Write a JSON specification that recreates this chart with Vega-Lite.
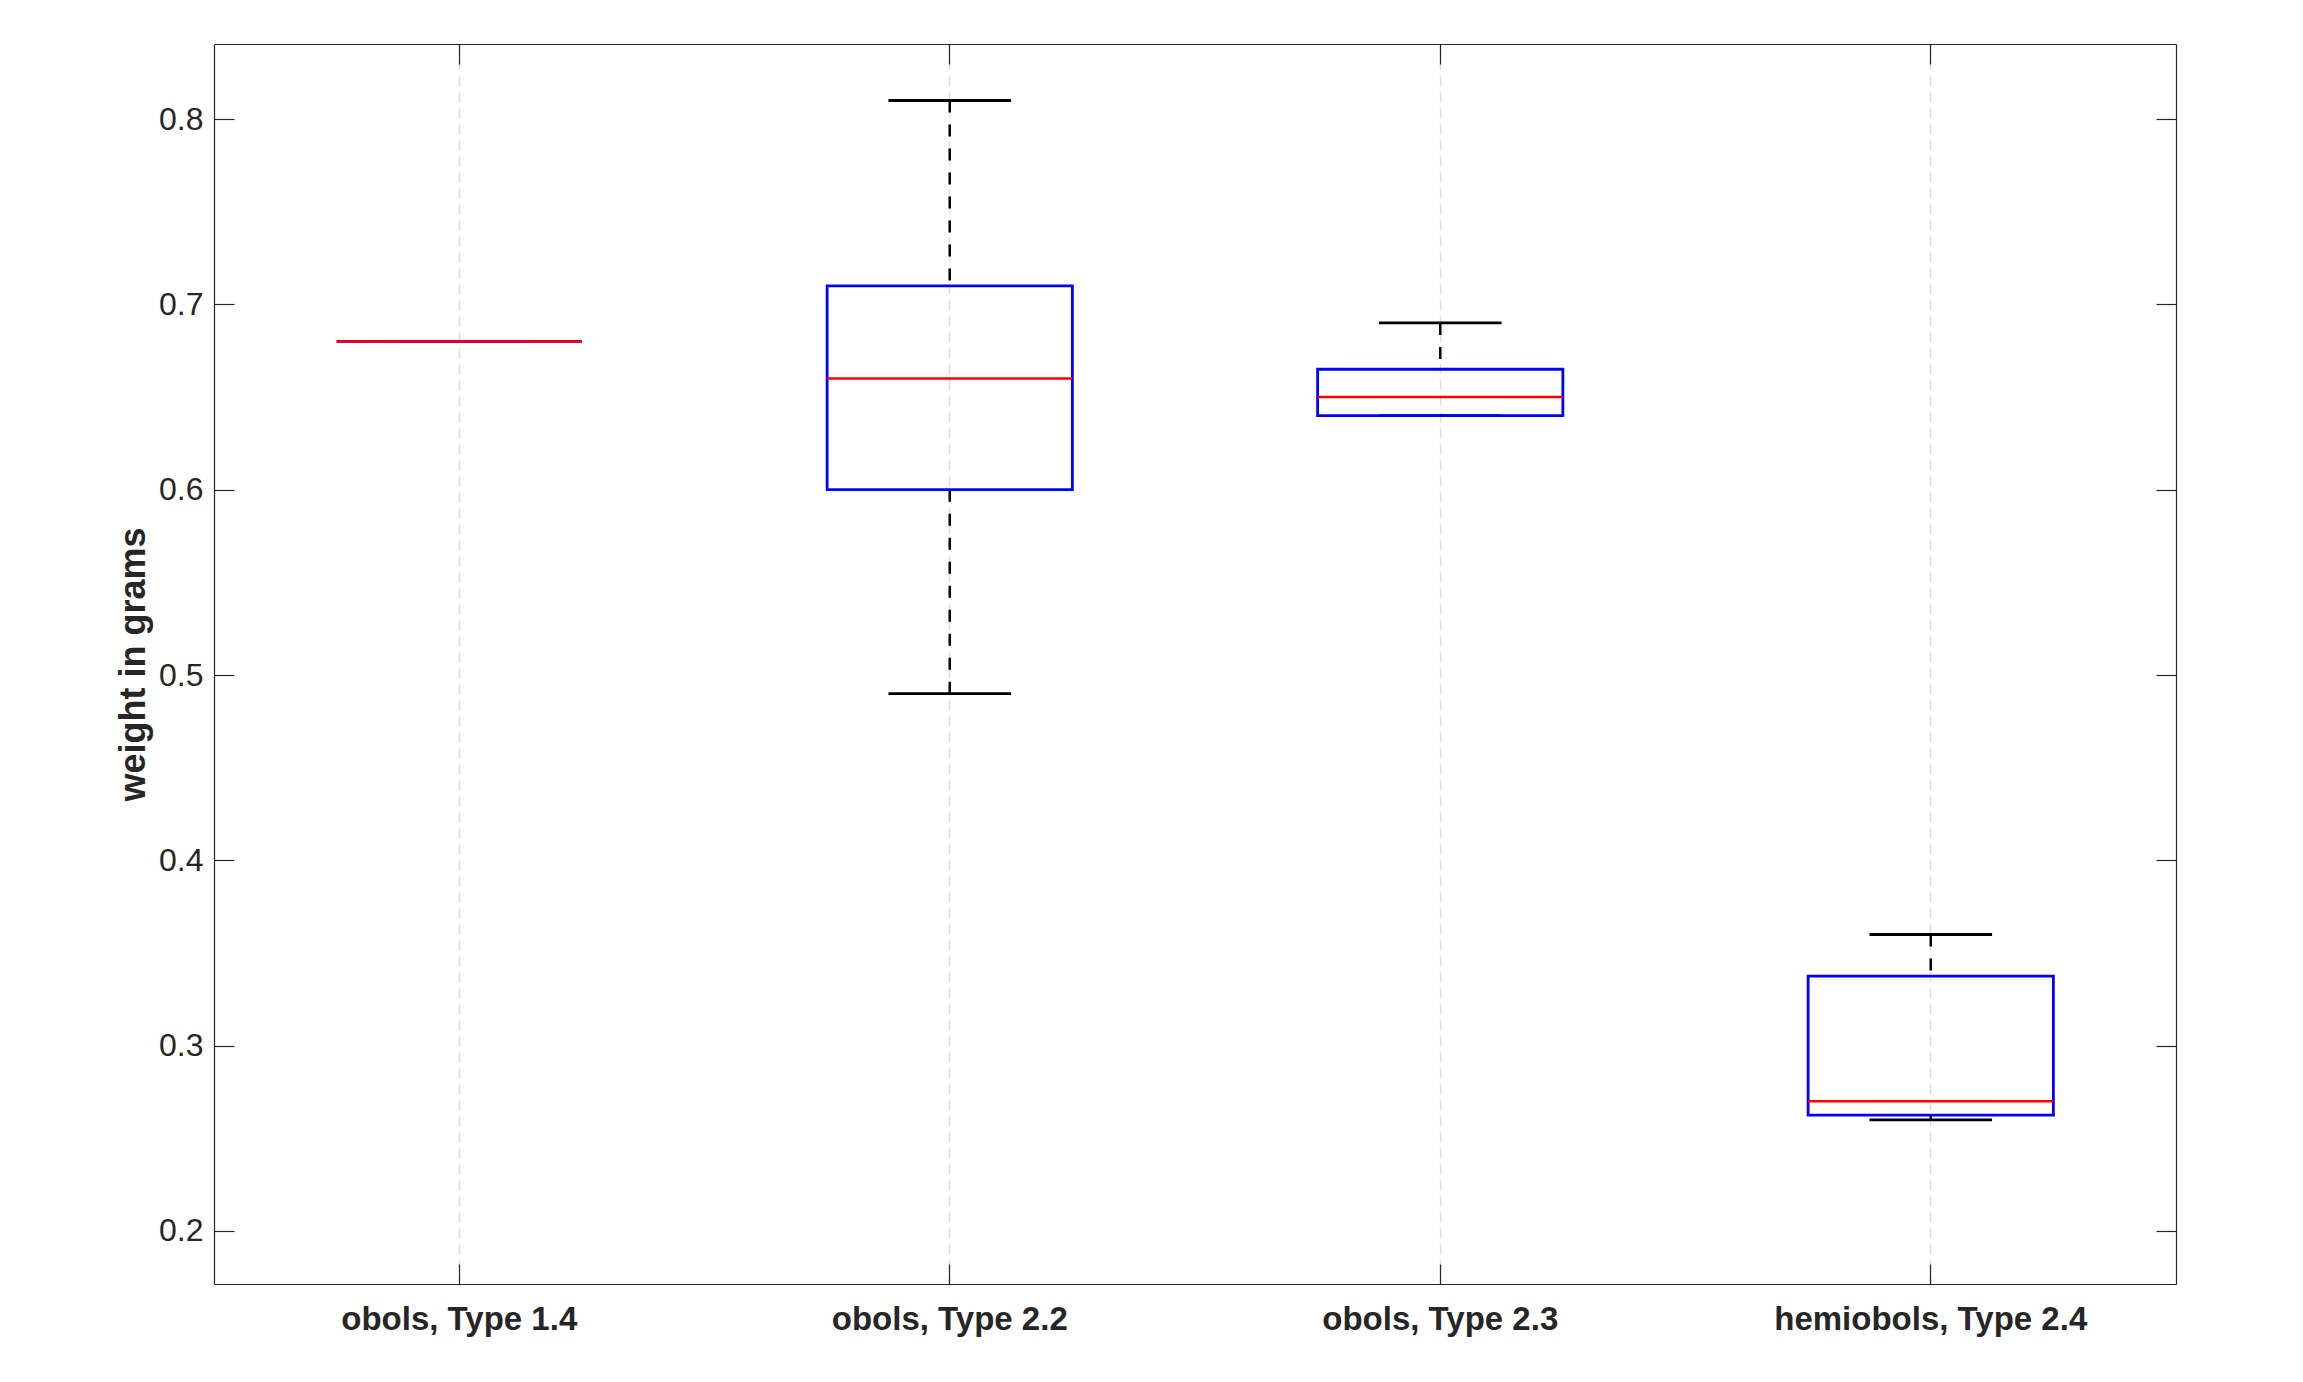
{
  "$schema": "https://vega.github.io/schema/vega-lite/v6.json",
  "width": 1962,
  "height": 1240,
  "autosize": {"type": "none"},
  "padding": {"left": 214, "top": 44, "right": 127, "bottom": 98},
  "background": "white",
  "config": {
    "view": {"stroke": null},
    "font": "Liberation Sans",
    "axis": {
      "domainColor": "#262626",
      "domainWidth": 1.2,
      "tickColor": "#262626",
      "tickWidth": 1.2,
      "labelColor": "#262626",
      "titleColor": "#262626",
      "labelFont": "Liberation Sans",
      "titleFont": "Liberation Sans",
      "labelLimit": 0
    }
  },
  "data": {
    "values": [
      {"group": "obols, Type 1.4", "lower": 0.68, "q1": 0.68, "median": 0.68, "q3": 0.68, "upper": 0.68},
      {"group": "obols, Type 2.2", "lower": 0.49, "q1": 0.60, "median": 0.66, "q3": 0.71, "upper": 0.81},
      {"group": "obols, Type 2.3", "lower": 0.64, "q1": 0.64, "median": 0.65, "q3": 0.665, "upper": 0.69},
      {"group": "hemiobols, Type 2.4", "lower": 0.26, "q1": 0.2625, "median": 0.27, "q3": 0.3375, "upper": 0.36}
    ]
  },
  "resolve": {"axis": {"x": "independent", "y": "independent"}},
  "layer": [
    {
      "mark": {"type": "rule", "color": "black", "strokeWidth": 2.5, "strokeDash": [12, 12]},
      "encoding": {
        "x": {
          "field": "group", "type": "nominal", "sort": null,
          "scale": {"type": "band", "paddingInner": 0, "paddingOuter": 0},
          "axis": {
            "orient": "bottom", "title": null, "labelAngle": 0,
            "labelFontSize": 33, "labelFontWeight": "bold", "labelLimit": 0,
            "tickSize": -20, "labelPadding": 39,
            "grid": true, "gridColor": "#dedede", "gridWidth": 1.5, "gridDash": [10, 6],
            "domain": true
          }
        },
        "y": {
          "field": "upper", "type": "quantitative",
          "scale": {"domain": [0.1714, 0.8405], "nice": false, "zero": false},
          "axis": {
            "orient": "left", "title": "weight in grams",
            "titleFontSize": 36, "titleFontWeight": "bold", "titlePadding": 6,
            "values": [0.2, 0.3, 0.4, 0.5, 0.6, 0.7, 0.8], "format": ".1f",
            "labelFontSize": 32, "tickSize": -20, "labelPadding": 31,
            "grid": false, "domain": true
          }
        },
        "y2": {"field": "q3"}
      }
    },
    {
      "mark": {"type": "rule", "color": "black", "strokeWidth": 2.5, "strokeDash": [12, 12]},
      "encoding": {
        "x": {
          "field": "group", "type": "nominal", "sort": null,
          "axis": {"orient": "top", "title": null, "labels": false, "tickSize": -20, "grid": false, "domain": true}
        },
        "y": {
          "field": "q1", "type": "quantitative",
          "axis": {"orient": "right", "title": null, "labels": false, "tickSize": -20, "grid": false, "domain": true,
                   "values": [0.2, 0.3, 0.4, 0.5, 0.6, 0.7, 0.8]}
        },
        "y2": {"field": "lower"}
      }
    },
    {
      "mark": {"type": "bar", "width": {"band": 0.25}, "fill": "white", "fillOpacity": 0, "stroke": "black", "strokeWidth": 2.8},
      "encoding": {
        "x": {"field": "group", "type": "nominal", "sort": null, "axis": null},
        "y": {"field": "upper", "type": "quantitative", "axis": null},
        "y2": {"field": "upper"}
      }
    },
    {
      "mark": {"type": "bar", "width": {"band": 0.25}, "fill": "white", "fillOpacity": 0, "stroke": "black", "strokeWidth": 2.8},
      "encoding": {
        "x": {"field": "group", "type": "nominal", "sort": null, "axis": null},
        "y": {"field": "lower", "type": "quantitative", "axis": null},
        "y2": {"field": "lower"}
      }
    },
    {
      "mark": {"type": "bar", "width": {"band": 0.5}, "fill": "white", "fillOpacity": 0, "stroke": "#0000ff", "strokeWidth": 2.8},
      "encoding": {
        "x": {"field": "group", "type": "nominal", "sort": null, "axis": null},
        "y": {"field": "q1", "type": "quantitative", "axis": null},
        "y2": {"field": "q3"}
      }
    },
    {
      "mark": {"type": "bar", "width": {"band": 0.5}, "fill": "white", "fillOpacity": 0, "stroke": "#ff0000", "strokeWidth": 2.5},
      "encoding": {
        "x": {"field": "group", "type": "nominal", "sort": null, "axis": null},
        "y": {"field": "median", "type": "quantitative", "axis": null},
        "y2": {"field": "median"}
      }
    }
  ]
}
